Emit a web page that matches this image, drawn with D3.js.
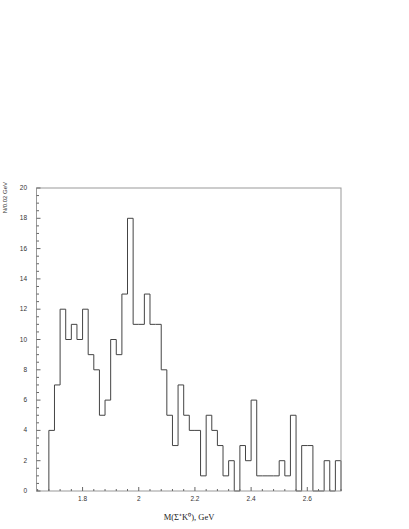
<!DOCTYPE html>
<html>
<head>
<meta charset="utf-8">
<script src="https://cdn.jsdelivr.net/npm/d3@7"></script>
<style>
  html, body { margin: 0; padding: 0; background: #fff; }
  svg { display: block; }
</style>
</head>
<body>
<svg id="chart" width="409" height="529"></svg>
<script>
// ---- data ----
const binStart = 1.68;      // GeV, lower edge of first filled bin
const binWidth = 0.02;      // GeV
const counts = [4,7,12,10,11,10,12,9,8,5,
                6,10,9,13,18,11,11,13,11,11,
                8,5,3,7,5,4,4,1,5,4,
                3,1,2,0,3,2,6,1,1,1,
                1,2,1,5,0,3,3,0,0,2,
                0,2];
const xTicks = [1.8, 2.0, 2.2, 2.4, 2.6];
const xTickLabels = ["1.8", "2", "2.2", "2.4", "2.6"];
const yTicks = [0, 2, 4, 6, 8, 10, 12, 14, 16, 18, 20];
const xDomain = [1.636, 2.72];
const yDomain = [0, 20];
const xTitle = "M(Σ⁺K⁰), GeV";
const yTitle = "N/0.02 GeV";

// ---- layout ----
const L = 36.5, R = 341, T = 188, B = 491;
const svg = d3.select("#chart");
const x = d3.scaleLinear().domain(xDomain).range([L, R]);
const y = d3.scaleLinear().domain(yDomain).range([B, T]);

// histogram step path
const pts = [[binStart, 0]];
counts.forEach((c, i) => {
  const x0 = binStart + i * binWidth;
  pts.push([x0, c]);
  pts.push([x0 + binWidth, c]);
});
pts.push([binStart + counts.length * binWidth, 0]);
const line = d3.line().x(d => x(d[0])).y(d => y(d[1]));
svg.append("path")
  .attr("d", line(pts))
  .attr("fill", "none")
  .attr("stroke", "#444")
  .attr("stroke-width", 1);

// frame
svg.append("rect")
  .attr("x", L).attr("y", T)
  .attr("width", R - L).attr("height", B - T)
  .attr("fill", "none")
  .attr("stroke", "#999")
  .attr("stroke-width", 1);

// y axis ticks (inward)
const yMinor = d3.range(0, 20.01, 0.5);
svg.append("g").selectAll("line").data(yMinor).join("line")
  .attr("x1", L).attr("x2", d => L + (d % 2 === 0 ? 4 : 2.5))
  .attr("y1", d => y(d)).attr("y2", d => y(d))
  .attr("stroke", "#666").attr("stroke-width", 1);
svg.append("g").selectAll("text").data(yTicks).join("text")
  .attr("x", 27).attr("y", d => y(d) + 2)
  .attr("text-anchor", "end")
  .attr("font-family", "Liberation Sans, Arial, sans-serif")
  .attr("font-size", 6.5)
  .attr("fill", "#333")
  .text(d => d);

// x axis ticks (inward)
const xMinor = d3.range(1.64, 2.7201, 0.04).map(v => +v.toFixed(2));
svg.append("g").selectAll("line").data(xMinor).join("line")
  .attr("x1", d => x(d)).attr("x2", d => x(d))
  .attr("y1", B).attr("y2", d => B - (xTicks.some(t => Math.abs(t - d) < 1e-6) ? 4 : 2))
  .attr("stroke", "#666").attr("stroke-width", 1);
svg.append("g").selectAll("text").data(xTicks).join("text")
  .attr("x", d => x(d)).attr("y", 501)
  .attr("text-anchor", "middle")
  .attr("font-family", "Liberation Sans, Arial, sans-serif")
  .attr("font-size", 6.5)
  .attr("fill", "#333")
  .text((d, i) => xTickLabels[i]);

// titles
svg.append("text")
  .attr("x", 189).attr("y", 520)
  .attr("text-anchor", "middle")
  .attr("font-family", "Liberation Serif, Times New Roman, serif")
  .attr("font-size", 8.5)
  .attr("fill", "#222")
  .text(xTitle);
svg.append("text")
  .attr("transform", "translate(7,182) rotate(-90)")
  .attr("text-anchor", "end")
  .attr("font-family", "Liberation Sans, Arial, sans-serif")
  .attr("font-size", 6)
  .attr("fill", "#333")
  .text(yTitle);
</script>
</body>
</html>
